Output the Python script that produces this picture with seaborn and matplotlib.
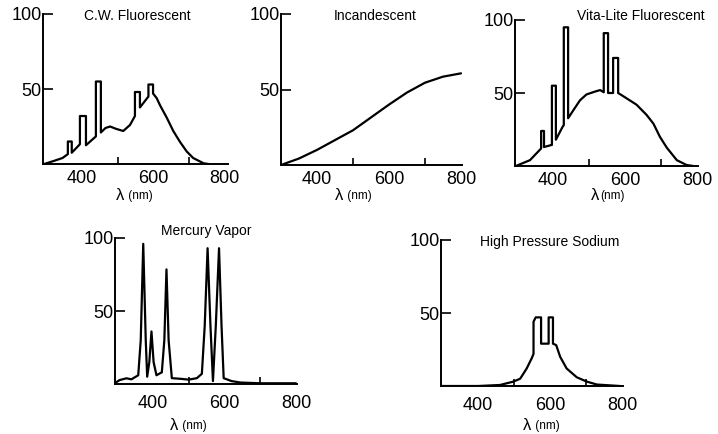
import matplotlib
matplotlib.use("Agg")
import matplotlib.pyplot as plt
import seaborn as sns
import pandas as pd

# ---------------- data (relative spectral power vs wavelength) ----------------
cw_nm = [293, 320, 345, 360, 360, 371, 371, 394, 394, 411, 411, 439, 439, 453, 453,
         466, 479, 495, 516, 535, 549, 549, 563, 563, 587, 587, 600, 600, 610, 620,
         639, 657, 676, 695, 713, 742, 756]
cw_rel = [0, 2, 4, 6.6, 15, 15, 7.5, 13.2, 32, 32, 12.5, 18.4, 55, 55, 21,
          24, 25, 23.5, 22, 26, 32, 48, 48, 37.7, 45, 53, 53, 47, 44, 39,
          30.7, 22, 14.7, 8.3, 4, 0.5, 0]

inc_nm = [300, 350, 400, 450, 500, 550, 600, 650, 700, 750, 800]
inc_rel = [0, 4.3, 10, 16.5, 23, 31.5, 40, 48, 54.5, 58.5, 60.7]

vl_nm = [297, 336, 367, 367, 375, 375, 396, 397, 397, 408, 408, 427, 430, 430, 442, 442,
         456, 475, 493, 517, 531, 541, 541, 553, 553, 567, 567, 581, 581, 594, 632,
         660, 679, 697, 716, 744, 771, 790]
vl_rel = [0, 4, 12, 24, 24, 13, 14.4, 14.4, 55, 55, 18, 27, 28, 95, 95, 32.7,
          38, 45, 49, 51, 52, 50.5, 91, 91, 50, 50, 74, 74, 50, 48, 42,
          35, 29, 20, 12.6, 4, 0.7, 0]

hg_nm = [293, 307, 326, 340, 359, 366, 373, 380, 384, 390, 396, 402, 410, 425, 432,
         438, 444, 453, 480, 500, 523, 537, 545, 553, 561, 568, 576, 585, 592, 598,
         620, 645, 700, 800]
hg_rel = [0.5, 2.7, 3.9, 3.2, 6, 30, 96, 30, 5, 15, 36, 15, 6, 8, 30,
          78.5, 30, 4, 3.5, 3, 4, 7, 40, 93, 40, 2, 40, 93, 40, 4,
          2, 1, 0.5, 0.5]

hps_nm = [297, 400, 461, 498, 517, 535, 549, 554, 554, 560, 575, 575, 596, 596, 608,
          608, 617, 628, 646, 674, 702, 730, 794]
hps_rel = [0, 0, 0.7, 3, 5, 12, 19, 22, 44, 47, 47, 29, 29, 47, 47,
           29, 28, 20, 12, 6, 3, 1, 0]

titles = ["C.W. Fluorescent", "Incandescent", "Vita-Lite Fluorescent",
          "Mercury Vapor", "High Pressure Sodium"]
x_ticks = [400, 600, 800]
x_minor = [500, 700]
y_ticks = [50, 100]
y_ticklabels = ["50", "100"]

# ---------------- layout ----------------
sns.set_theme(style="white")
plt.rcParams["font.family"] = ["Liberation Sans", "DejaVu Sans"]

W, H = 718, 434
fig = plt.figure(figsize=(W / 100, H / 100), dpi=100)

# (left px, right px, y0 px, y100 px, xlim, title pos, xlabel pos, unit text, tick pad)
panels = [
    (cw_nm, cw_rel, 43, 227.6, 164, 14, (290, 810), (137, 16), (116, 195), " (nm)", 4),
    (inc_nm, inc_rel, 281, 461.7, 165, 14, (300, 802), (335, 195), (375, 16), " (nm)", 4),
    (vl_nm, vl_rel, 515.2, 697.7, 166, 20, (295, 802), (641, 16), (591, 195), "(nm)", 4),
    (hg_nm, hg_rel, 115, 296.6, 384, 238, (294, 802), (206, 231), (170, 425), " (nm)", 8),
    (hps_nm, hps_rel, 441, 622.8, 386, 240, (297, 802), (550, 242), (523, 425), " (nm)", 8),
]
# fix order of entries for panel 2 (title pos, label pos)
panels[1] = (inc_nm, inc_rel, 281, 461.7, 165, 14, (300, 802), (375, 16), (335, 195), " (nm)", 4)

for (xs, ys, lpx, rpx, y0, y100, xlim, tpos, lpos, unit, tpad), title in zip(panels, titles):
    ax = fig.add_axes([lpx / W, (H - y0) / H, (rpx - lpx) / W, (y0 - y100) / H])
    df = pd.DataFrame({"nm": xs, "rel": ys})
    sns.lineplot(data=df, x="nm", y="rel", ax=ax, estimator=None, sort=False,
                 color="black", linewidth=1.6)
    ax.set_xlim(*xlim)
    ax.set_ylim(0, 100)
    ax.set_facecolor("white")
    for s in ["top", "right"]:
        ax.spines[s].set_visible(False)
    for s in ["left", "bottom"]:
        ax.spines[s].set_color("black")
        ax.spines[s].set_linewidth(1.4)
    ax.set_xticks(x_ticks)
    ax.set_xticks(x_minor, minor=True)
    ax.set_yticks(y_ticks)
    ax.set_yticklabels(y_ticklabels)
    ax.tick_params(axis="x", which="both", direction="in", length=5, width=1.2,
                   color="black", labelsize=13, pad=tpad, labelcolor="black")
    ax.tick_params(axis="x", which="minor", bottom=True)
    ax.tick_params(axis="y", which="major", direction="in", length=7, width=1.2,
                   color="black", labelsize=13, pad=1, labelcolor="black", left=True)
    ax.set_xlabel("")
    ax.set_ylabel("")
    fig.text(tpos[0] / W, 1 - tpos[1] / H, title, ha="center", va="center",
             fontsize=10, color="black")
    fig.text(lpos[0] / W, 1 - lpos[1] / H, "λ", ha="left", va="center",
             fontsize=12, color="black")
    fig.text((lpos[0] + 9) / W, 1 - (lpos[1] + 0.5) / H, unit, ha="left", va="center",
             fontsize=8.5, color="black")

fig.savefig("out.png", dpi=100, facecolor="white")
